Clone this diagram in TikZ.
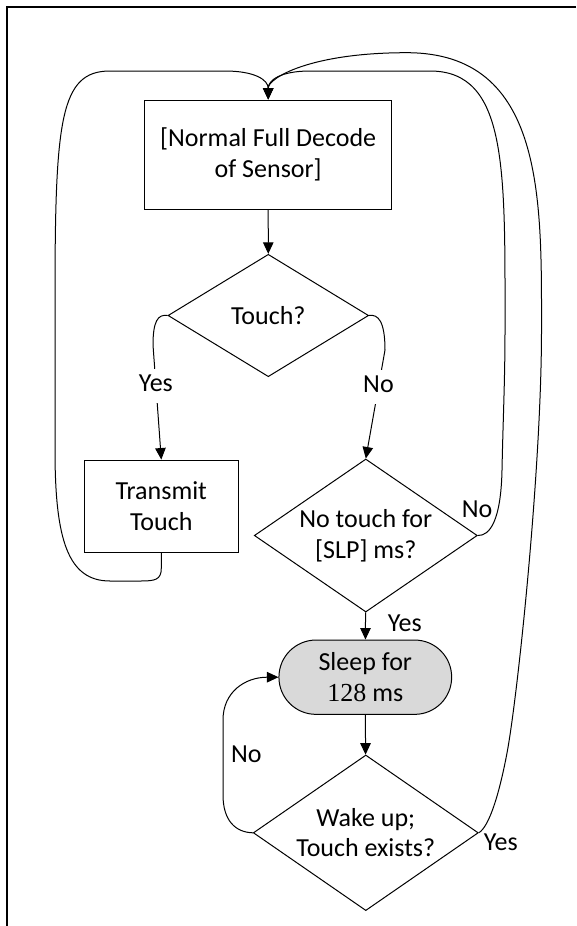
\documentclass[tikz,border=0pt]{standalone}
\usepackage{fontspec}
\setmainfont{Carlito}
\newfontfamily\numfont{Liberation Serif}
\usetikzlibrary{shapes.geometric,arrows.meta}
\definecolor{sleepgray}{RGB}{217,217,217}

\begin{document}
\begin{tikzpicture}[x=1pt, y=-1pt, line width=1pt,
  >={Triangle[length=11.5pt,width=10.5pt]},
  every node/.style={font=\fontsize{26}{30.5}\selectfont},
  box/.style={draw, rectangle, align=center, inner sep=0pt},
  decision/.style={draw, diamond, align=center, inner sep=-8pt},
  sleepbox/.style={draw, rectangle, rounded corners=37pt, fill=sleepgray, align=center, inner sep=0pt},
  lbl/.style={inner sep=2pt, text height=18pt, text depth=6pt},
  gap/.style={lbl, fill=white, inner ysep=5pt},
  frame/.style={line width=2pt}]
\useasboundingbox (0,0) rectangle (576,926);
\draw[frame] (576,6.7) -- (6.7,6.7) -- (6.7,926);

\node[box, minimum width=247pt, minimum height=109pt] (decode) at (268.2,154.5) {[Normal Full Decode\\of Sensor]};
\node[decision, minimum width=200.6pt, minimum height=122.4pt] (touch) at (268.3,315.5) {Touch?};
\node[box, minimum width=154pt, minimum height=92.3pt] (transmit) at (161.3,506.2) {Transmit\\Touch};
\node[decision, minimum width=223pt, minimum height=141pt] (notouch) at (365.8,535.5) {No touch for\\{[SLP]} ms?};
\node[sleepbox, minimum width=172.7pt, minimum height=74.3pt] (sleep) at (365.3,677.2) {Sleep for\\{\numfont 128} ms};
\node[decision, minimum width=225pt, minimum height=122.3pt] (wake) at (365.8,832.8) {Wake up;\\Touch exists?};

\draw[->] (decode) -- (touch);
\draw[->] (touch.west) .. controls (158,314) and (153,321) .. (153,345) -- node[gap, pos=0.354] {Yes} (transmit.north);
\draw[->] (touch.east) .. controls (378,314) and (385,321) .. (385,350) -- node[gap, pos=0.339] {No} (notouch.north);

% back to the decode box
\draw[->] (transmit.south) -- (161.3,568) .. controls (161.3,580) and (155,581) .. (140,581) -- (110,581)
  .. controls (68,581) and (55,540) .. (55,450) -- (55,300)
  .. controls (55,120) and (60,71) .. (110,71) -- (225,71)
  .. controls (255,71) and (268.2,80) .. (decode.north);
\draw[->] (notouch.east) node[lbl, xshift=-0.8pt, yshift=23.7pt] {No}
  .. controls (490,536) and (501,520) .. (502,470)
  .. controls (503,420) and (505,380) .. (505,330)
  .. controls (505,170) and (508,71) .. (430,71) -- (310,71)
  .. controls (281,71) and (268.2,80) .. (decode.north);

\draw[->] (notouch) -- node[lbl, xshift=39.3pt] {Yes} (sleep);
\draw[->] (sleep) -- (wake);
\draw[->] (wake.west) .. controls (235,832.3) and (223,820) .. (223,795)
  -- node[lbl, pos=0.51, xshift=23.3pt] {No} (223,720)
  .. controls (223,692) and (245,677.2) .. (sleep.west);
\draw[->] (wake.east) node[lbl, xshift=22pt, yshift=-11.7pt] {Yes}
  .. controls (490,826) and (500,790) .. (507,753)
  .. controls (517.5,697.5) and (541.5,470) .. (541.5,330)
  .. controls (541.5,200) and (545,52.7) .. (406.7,52.7)
  .. controls (310,52.7) and (268.2,78) .. (decode.north);
\end{tikzpicture}
\end{document}
